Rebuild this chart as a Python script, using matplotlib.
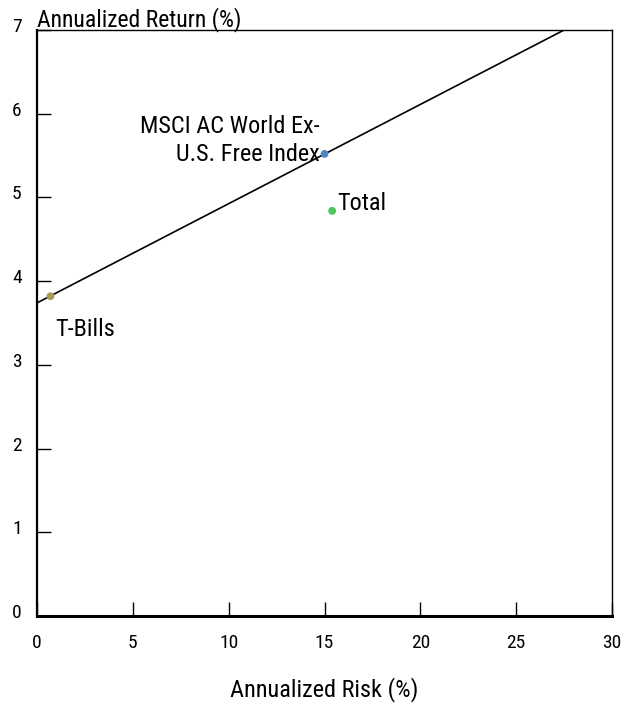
import matplotlib

matplotlib.use("Agg")
import matplotlib.pyplot as plt
import matplotlib.transforms as mtransforms

# condensed look of the original; fall back to Liberation Sans
plt.rcParams["font.family"] = ["Roboto Condensed", "Liberation Sans", "DejaVu Sans"]

# data
names = ["T-Bills", "MSCI AC World Ex-\nU.S. Free Index", "Total"]
risk = [0.7, 15.0, 15.4]
ret = [3.82, 5.52, 4.84]
colors = ["#a99a5a", "#4f86c6", "#4cc460"]

# capital market line endpoints
cml_x = [0.0, 27.5]
cml_y = [3.74, 7.0]

x_ticks = [0, 5, 10, 15, 20, 25, 30]
y_ticks = [0, 1, 2, 3, 4, 5, 6, 7]

W, H = 633, 704
fig = plt.figure(figsize=(W / 100, H / 100), dpi=100)
ax = fig.add_axes([37 / W, 88 / H, 575 / W, 586 / H])

ax.plot(cml_x, cml_y, color="black", linewidth=1.2, zorder=2)
ax.scatter(risk, ret, s=32, c=colors, zorder=3, linewidths=0)

ax.set_xlim(0, 30)
ax.set_ylim(0, 7)
ax.set_xticks(x_ticks)
ax.set_yticks(y_ticks)
ax.tick_params(direction="in", length=10, width=1, labelsize=14, colors="black")
ax.tick_params(axis="x", pad=13, top=False)
ax.tick_params(axis="y", pad=11, right=False)

# y labels sit a little above their ticks in the original
shift = mtransforms.ScaledTranslation(0, 5 / 100, fig.dpi_scale_trans)
for lbl in ax.get_yticklabels():
    lbl.set_transform(lbl.get_transform() + shift)

ax.spines["bottom"].set_linewidth(2.2)
ax.spines["left"].set_linewidth(1.6)
ax.spines["top"].set_linewidth(1.0)
ax.spines["right"].set_linewidth(1.0)

fs = 17.5
ax.text(14.75, 5.68, names[1], ha="right", va="center", fontsize=fs, linespacing=1.27)
ax.text(15.68, 4.93, names[2], ha="left", va="center", fontsize=fs)
ax.text(0.94, 3.42, names[0], ha="left", va="center", fontsize=fs)

fig.text(37 / W, (H - 26) / H, "Annualized Return (%)", ha="left", va="baseline", fontsize=17)
fig.text((37 + 575 / 2) / W, (H - 690) / H, "Annualized Risk (%)",
         ha="center", va="center", fontsize=fs)

fig.savefig("out.png", dpi=100)
